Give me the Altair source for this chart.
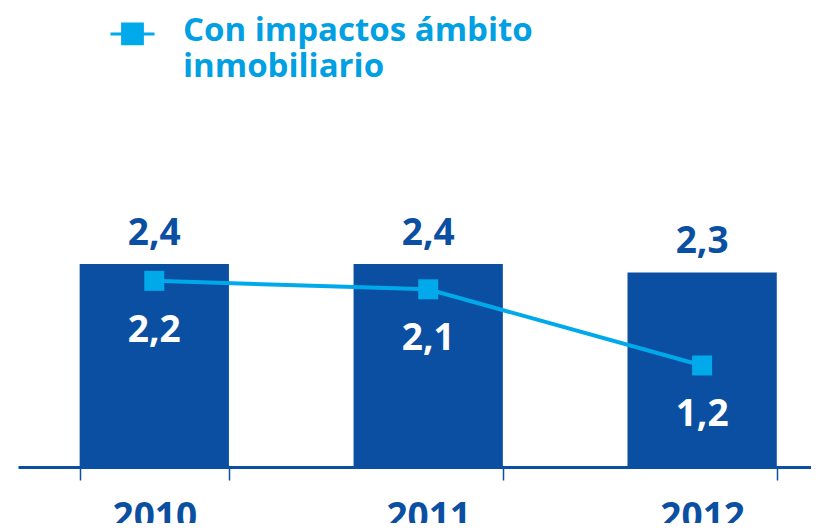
import altair as alt
import pandas as pd

years = ["2010", "2011", "2012"]
total = [2.4, 2.4, 2.3]
inmob = [2.2, 2.1, 1.2]
serie = "Con impactos ámbito inmobiliario"

DARK = "#0b4fa2"
LIGHT = "#00aaea"
LEGTXT = "#00a0e3"
FONT = "Open Sans"

def fmt(v):
    return f"{v:.1f}".replace(".", ",")

df = pd.DataFrame({
    "year": years,
    "total": total,
    "inmob": inmob,
    "total_lbl": [fmt(v) for v in total],
    "inmob_lbl": [fmt(v) for v in inmob],
    "serie": [serie] * len(years),
})

x = alt.X(
    "year:N",
    title=None,
    scale=alt.Scale(paddingInner=0.455, paddingOuter=0.175, align=0.643),
    axis=alt.Axis(
        labelAngle=0,
        labelFont=FONT,
        labelFontSize=37,
        labelFontWeight="bold",
        labelColor=DARK,
        labelPadding=19,
        domainColor=DARK,
        domainWidth=3,
        tickColor=DARK,
        tickWidth=1.5,
        tickSize=13,
        tickBand="extent",
        grid=False,
    ),
)
yscale = alt.Scale(domain=[0, 5.425], nice=False, zero=True)

base = alt.Chart(df)

bars = base.mark_bar(color=DARK).encode(
    x=x,
    y=alt.Y("total:Q", scale=yscale, axis=None),
)
bar_lbl = base.mark_text(
    dy=-19, baseline="alphabetic", font=FONT, fontSize=37, fontWeight="bold", color=DARK
).encode(x=x, y=alt.Y("total:Q", scale=yscale), text="total_lbl:N")

color = alt.Color(
    "serie:N",
    scale=alt.Scale(range=[LIGHT]),
    legend=alt.Legend(
        title=None,
        orient="none",
        legendX=91,
        legendY=9,
        padding=0,
        symbolType="M-1,-0.3H1M-0.45,-0.75H0.45V0.15H-0.45Z",
        symbolSize=1936,
        symbolStrokeWidth=3,
        symbolStrokeColor=LIGHT,
        symbolFillColor=LIGHT,
        labelFont=FONT,
        labelFontSize=33,
        labelFontWeight="bold",
        labelColor=LEGTXT,
        labelLimit=700,
        labelOffset=27,
        labelBaseline="alphabetic",
        labelExpr="[slice(datum.label, 0, 19), slice(datum.label, 20)]",
    ),
)

line = base.mark_line(strokeWidth=4).encode(
    x=x, y=alt.Y("inmob:Q", scale=yscale), color=color
)
pts = base.mark_point(shape="square", size=400, filled=True, opacity=1).encode(
    x=x, y=alt.Y("inmob:Q", scale=yscale), color=color
)
line_lbl = base.mark_text(
    dy=61, baseline="alphabetic", font=FONT, fontSize=37, fontWeight="bold", color="white"
).encode(x=x, y=alt.Y("inmob:Q", scale=yscale), text="inmob_lbl:N")

chart = (
    alt.layer(bars, bar_lbl, line, pts, line_lbl)
    .properties(
        width=793,
        height=459,
        autosize=alt.AutoSizeParams(type="none"),
        padding={"left": 10, "top": 0, "right": 0, "bottom": 56},
    )
    .configure(
        view=alt.ViewConfig(stroke=None),
        style={"guide-label": {"lineHeight": 36}},
    )
)

chart.save("out.html", embed_options={"renderer": "svg", "actions": False})
